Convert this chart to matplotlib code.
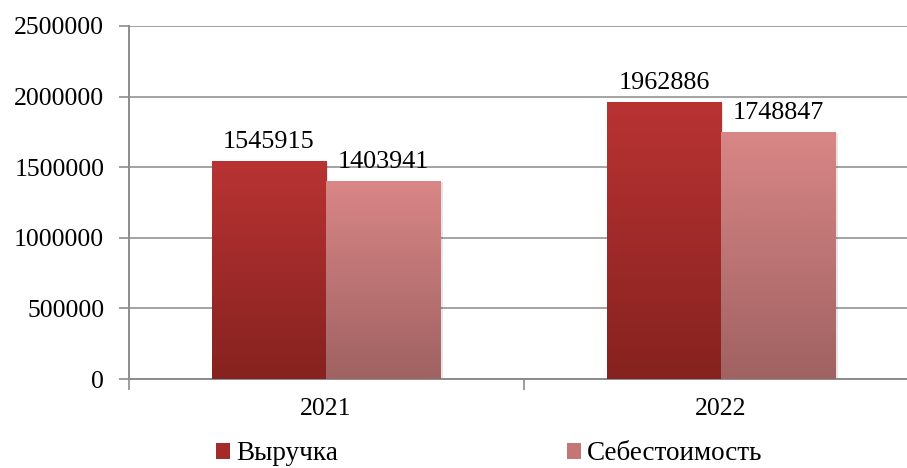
import matplotlib.pyplot as plt
import numpy as np
from matplotlib.colors import LinearSegmentedColormap
from matplotlib.patches import Patch

years = ["2021", "2022"]
revenue = [1545915, 1962886]
cost = [1403941, 1748847]
series_names = ["Выручка", "Себестоимость"]

# gradient colours (top, bottom)
red_grad = ("#b93333", "#86221f")
pink_grad = ("#d98686", "#a06262")
legend_colors = ["#a52b2a", "#c47676"]

plt.rcParams["font.family"] = ["Liberation Serif", "DejaVu Serif"]

W, H = 907, 468
fig = plt.figure(figsize=(W / 100, H / 100), dpi=100)
ax = fig.add_axes([128.5 / W, 1 - 379 / H, 790 / W, (379 - 26) / H])

x = np.arange(len(years))
bw = 0.289


def grad_bars(xs, vals, colors):
    cmap = LinearSegmentedColormap.from_list("g", [colors[1], colors[0]])
    bars = ax.bar(xs, vals, bw, color="none", edgecolor="none", zorder=3)
    grad = np.linspace(0, 1, 256).reshape(-1, 1)
    for b in bars:
        x0, y0 = b.get_x(), b.get_y()
        w, h = b.get_width(), b.get_height()
        # soft shadow
        ax.bar(x0 + w / 2 + 0.006, h, w, bottom=-8000, color="#000000",
               alpha=0.10, zorder=2, edgecolor="none")
        im = ax.imshow(grad, cmap=cmap, origin="lower", aspect="auto",
                       extent=[x0, x0 + w, y0, y0 + h], zorder=3)
        im.set_clip_path(b)
    return bars


b1 = grad_bars(x - bw / 2, revenue, red_grad)
b2 = grad_bars(x + bw / 2, cost, pink_grad)

for bars, vals in ((b1, revenue), (b2, cost)):
    for b, v in zip(bars, vals):
        ax.text(b.get_x() + b.get_width() / 2, v + 58000, str(v),
                ha="center", va="bottom", fontsize=18.8, zorder=4)

ax.set_xlim(-0.5, 1.5)
ax.set_ylim(0, 2500000)
ax.set_yticks(np.arange(0, 2500001, 500000))
ax.set_yticklabels([str(v) for v in range(0, 2500001, 500000)])
ax.set_xticks(x)
ax.set_xticklabels(years)
ax.set_xticks([-0.5, 0.5, 1.5], minor=True)
ax.tick_params(axis="x", which="major", length=0, labelsize=18.5, pad=14)
ax.tick_params(axis="x", which="minor", length=8, width=1.2, color="#8c8c8c")
ax.tick_params(axis="y", length=7, width=1.2, color="#8c8c8c",
               labelsize=18.5, pad=10.5)

ax.grid(axis="y", color="#a3a3a3", linewidth=1.4, zorder=0)
ax.set_axisbelow(True)
for s in ("top", "right"):
    ax.spines[s].set_visible(False)
for s in ("left", "bottom"):
    ax.spines[s].set_color("#8c8c8c")
    ax.spines[s].set_linewidth(1.4)

# legend entries placed separately, like the source chart
legend_x = [216, 567]
for name, col, lx in zip(series_names, legend_colors, legend_x):
    fig.legend([Patch(facecolor=col, edgecolor="none")], [name],
               loc="center left", bbox_to_anchor=(lx / W, 1 - 454 / H),
               frameon=False, fontsize=19.5, handlelength=0.52,
               handleheight=0.55, handletextpad=0.22, borderaxespad=0,
               borderpad=0)

fig.savefig("out.png", dpi=100)
